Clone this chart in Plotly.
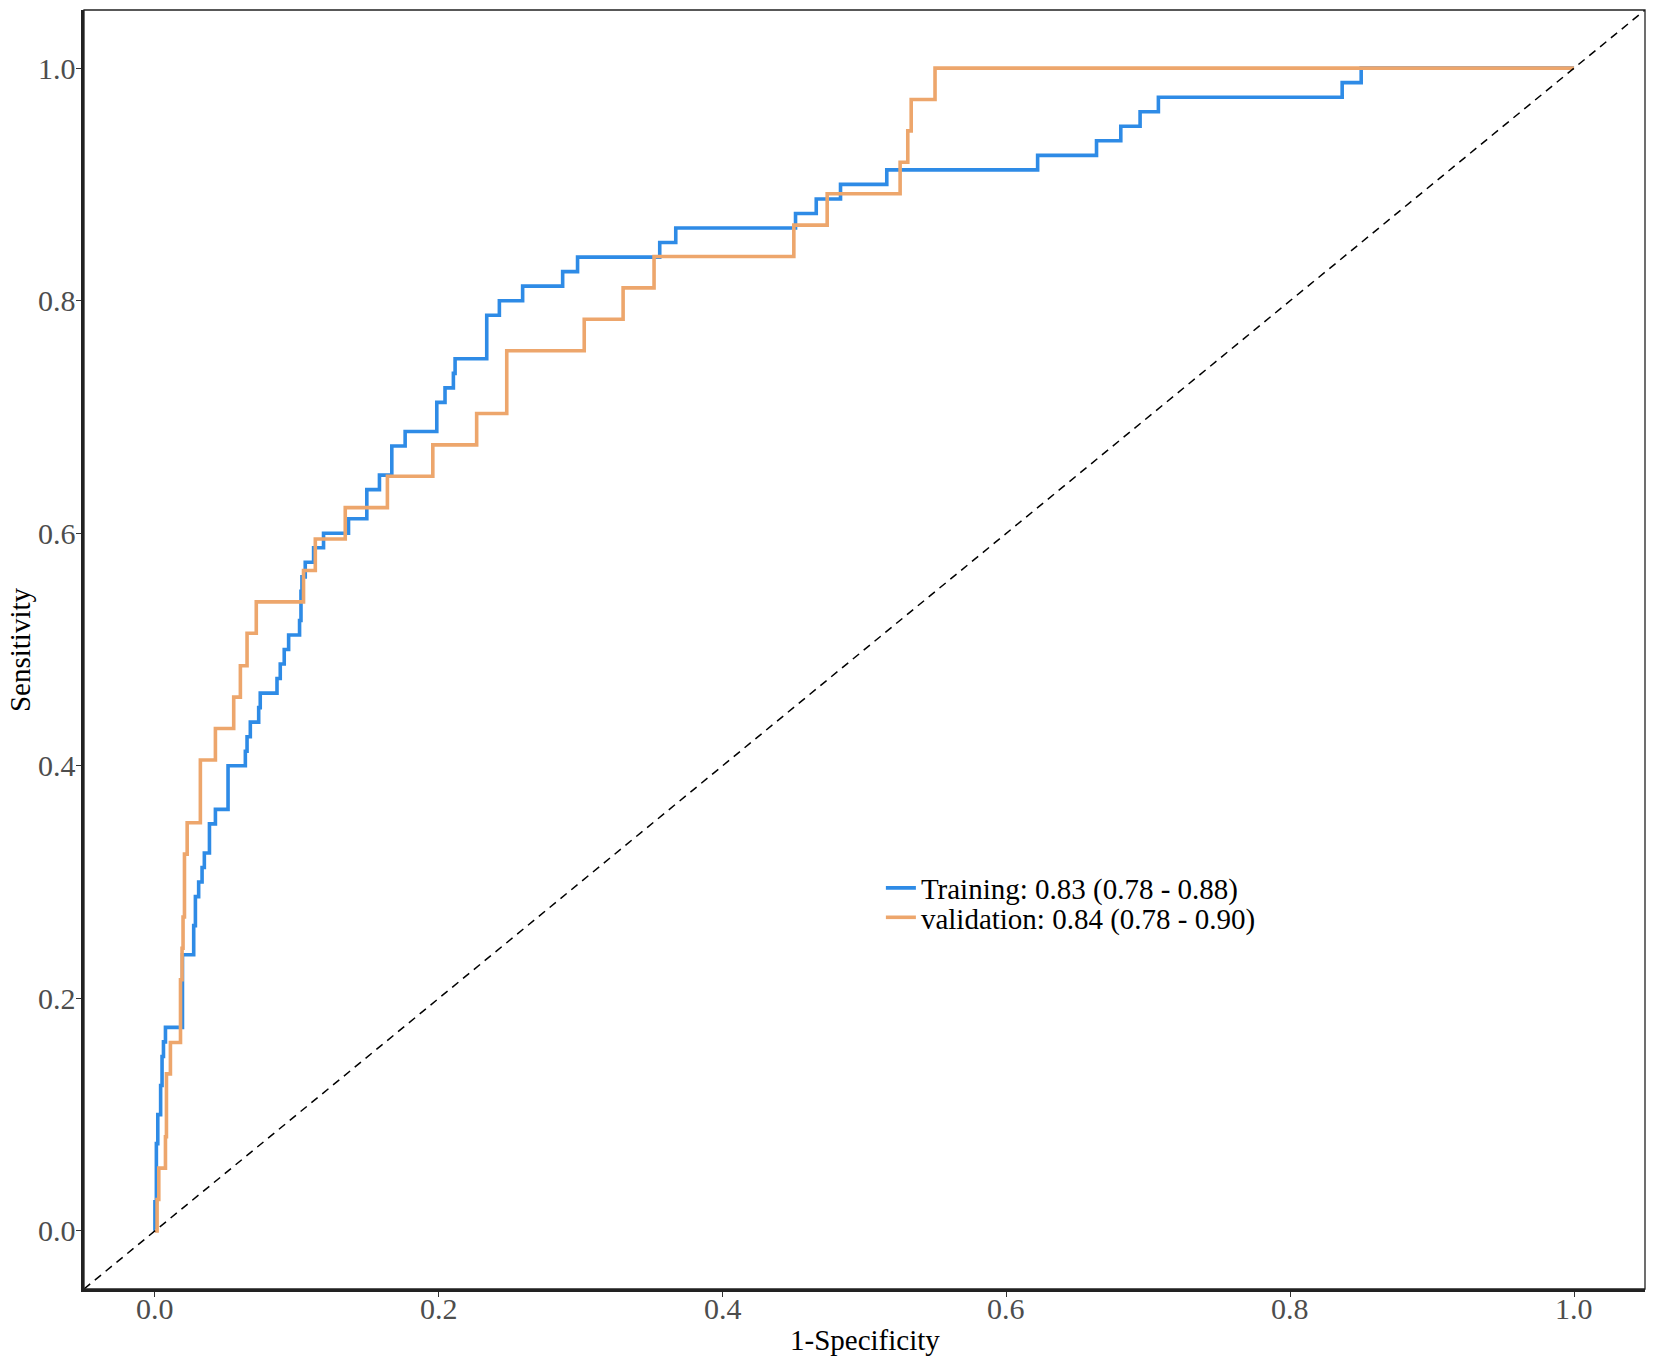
import plotly.graph_objects as go

# Training ROC (1-Specificity, Sensitivity) step vertices
train_fpr = [0, 0, 0.001, 0.002, 0.004, 0.005, 0.006, 0.0074, 0.0194, 0.0273, 0.0285, 0.0308,
             0.0332, 0.0348, 0.0384, 0.0426, 0.0515, 0.0637, 0.0649, 0.0672, 0.0731, 0.0742,
             0.0860, 0.0883, 0.0911, 0.0942, 0.1019, 0.1029, 0.1036, 0.1059, 0.1118, 0.1188,
             0.1364, 0.1493, 0.1582, 0.1669, 0.1763, 0.1986, 0.2044, 0.2103, 0.2115, 0.2338,
             0.2427, 0.2591, 0.2873, 0.2978, 0.3557, 0.367, 0.4514, 0.466, 0.4831, 0.5157,
             0.622, 0.6635, 0.6806, 0.6942, 0.7071, 0.8366, 0.850, 1.0]
train_tpr = [0, 0.025, 0.075, 0.1, 0.125, 0.15, 0.1625, 0.175, 0.2375, 0.2625, 0.2875, 0.3,
             0.3125, 0.325, 0.35, 0.3625, 0.4, 0.4125, 0.425, 0.4375, 0.45, 0.4625,
             0.475, 0.4875, 0.5, 0.5125, 0.525, 0.55, 0.5625, 0.575, 0.5875, 0.6,
             0.6125, 0.6375, 0.65, 0.675, 0.6875, 0.7125, 0.725, 0.7375, 0.75, 0.7875,
             0.8, 0.8125, 0.825, 0.8375, 0.85, 0.8625, 0.875, 0.8875, 0.9, 0.9125,
             0.925, 0.9375, 0.95, 0.9625, 0.975, 0.9875, 1.0, 1.0]

# Validation ROC step vertices
val_fpr = [0, 0.0015, 0.0027, 0.0074, 0.0081, 0.0109, 0.018, 0.0191, 0.0198, 0.0208, 0.0227,
           0.032, 0.0426, 0.0555, 0.0602, 0.0649, 0.0714, 0.1047, 0.1130, 0.1341, 0.1638,
           0.1958, 0.2267, 0.2479, 0.3025, 0.3299, 0.3517, 0.4502, 0.4737, 0.5251, 0.5305,
           0.5329, 0.5497, 1.0]
val_tpr = [0, 0.027, 0.054, 0.081, 0.135, 0.162, 0.216, 0.243, 0.270, 0.324, 0.351,
           0.405, 0.432, 0.459, 0.486, 0.514, 0.541, 0.568, 0.595, 0.622, 0.649,
           0.676, 0.703, 0.757, 0.784, 0.811, 0.838, 0.865, 0.892, 0.919, 0.946,
           0.973, 1.0, 1.0]

series_names = ["Training: 0.83 (0.78 - 0.88)", "validation: 0.84 (0.78 - 0.90)"]
series_colors = ["#2E8BE6", "#EDA66C"]
tick_vals = [0.0, 0.2, 0.4, 0.6, 0.8, 1.0]
tick_text = ["0.0", "0.2", "0.4", "0.6", "0.8", "1.0"]
axis_range = [-0.05, 1.05]
x_title = "1-Specificity"
y_title = "Sensitivity"

FONT = "Liberation Serif"
TICK_FONT = dict(family=FONT, size=30, color="#4D4D4D")

fig = go.Figure()
fig.add_trace(go.Scatter(x=train_fpr, y=train_tpr, mode="lines", name=series_names[0],
                         legend="legend",
                         line=dict(color=series_colors[0], width=3.6, shape="hv")))
fig.add_trace(go.Scatter(x=val_fpr, y=val_tpr, mode="lines", name=series_names[1],
                         legend="legend2",
                         line=dict(color=series_colors[1], width=3.6, shape="hv")))

# diagonal reference line across the panel
fig.add_shape(type="line", xref="x", yref="y", x0=axis_range[0], y0=axis_range[0],
              x1=axis_range[1], y1=axis_range[1],
              line=dict(color="black", width=1.5, dash="8px,6px"), layer="above")
# thin panel border
fig.add_shape(type="rect", xref="paper", yref="paper", x0=0, y0=0, x1=1, y1=1,
              line=dict(color="#222222", width=1.3), layer="above")

axis_common = dict(range=axis_range, tickvals=tick_vals, showticklabels=False,
                   showgrid=False, zeroline=False, showline=True, linecolor="#222222",
                   linewidth=2.5, ticks="outside", ticklen=5, tickwidth=1.3,
                   tickcolor="#333333", automargin=False)

legend_common = dict(xanchor="left", yanchor="middle",
                     font=dict(family=FONT, size=29, color="black"),
                     bgcolor="rgba(0,0,0,0)", borderwidth=0, itemwidth=30)

annotations = []
# tick labels placed at the tick values (close to the axis, as in ggplot)
for v, t in zip(tick_vals, tick_text):
    annotations.append(dict(text=t, xref="x", yref="paper", x=v, y=0, yshift=-19,
                            xanchor="center", yanchor="middle", showarrow=False,
                            font=TICK_FONT))
    annotations.append(dict(text=t, xref="paper", yref="y", x=0, y=v, xshift=-6,
                            xanchor="right", yanchor="middle", showarrow=False,
                            font=TICK_FONT))
annotations.append(dict(text=x_title, xref="paper", yref="paper", x=0.5, y=-0.04,
                        xanchor="center", yanchor="middle", showarrow=False,
                        font=dict(family=FONT, size=29, color="black")))
annotations.append(dict(text=y_title, xref="paper", yref="paper", x=-0.0413, y=0.5,
                        xanchor="center", yanchor="middle", showarrow=False, textangle=-90,
                        font=dict(family=FONT, size=29, color="black")))

fig.update_layout(
    width=1654, height=1361,
    margin=dict(l=84, r=9, t=10, b=72, autoexpand=False),
    paper_bgcolor="white", plot_bgcolor="white",
    font=dict(family=FONT, color="black"),
    xaxis=dict(**axis_common),
    yaxis=dict(**axis_common),
    legend=dict(x=0.5105, y=0.3135, **legend_common),
    legend2=dict(x=0.5105, y=0.2905, **legend_common),
    showlegend=True,
    annotations=annotations,
)

# remove the page's default 8px body margin so the figure fills the window exactly
fig.write_html("out.html", config={"displayModeBar": False},
               post_script="document.body.style.margin='0px';")
